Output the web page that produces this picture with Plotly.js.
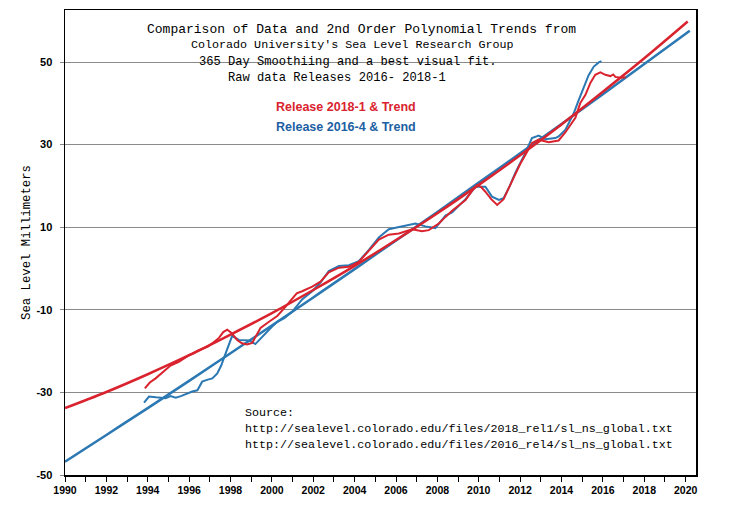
<!DOCTYPE html>
<html>
<head>
<meta charset="utf-8">
<script src="https://cdn.plot.ly/plotly-3.0.1.min.js"></script>
<style>html,body{margin:0;padding:0;background:#fff;}#chart{width:738px;height:527px;}</style>
</head>
<body>
<div id="chart"></div>
<script>
// Release 2018-1 data (365 day smoothing)
const red_years = [1993.86,1994.10,1994.38,1994.86,1995.10,1995.50,1996.00,1996.47,1996.90,1997.20,1997.44,1997.65,1997.84,1998.05,1998.32,1998.55,1998.80,1999.05,1999.25,1999.45,1999.86,2000.26,2000.60,2000.98,2001.20,2001.46,2001.95,2002.35,2002.75,2003.24,2003.72,2004.20,2004.69,2005.17,2005.65,2006.14,2006.78,2007.26,2007.58,2008.07,2008.39,2008.71,2009.36,2009.70,2009.92,2010.10,2010.32,2010.60,2010.89,2011.20,2011.50,2011.77,2012.00,2012.25,2012.57,2012.90,2013.38,2013.86,2014.19,2014.67,2014.90,2015.15,2015.40,2015.63,2015.88,2016.12,2016.36,2016.50,2016.60,2016.84,2017.10];
const red_values = [-29.0,-27.6,-26.6,-24.6,-23.5,-22.6,-21.0,-19.8,-18.9,-17.8,-16.8,-15.4,-14.8,-15.6,-17.3,-18.1,-18.4,-18.0,-16.0,-14.4,-12.9,-11.5,-9.6,-7.2,-6.0,-5.5,-4.4,-3.2,-0.9,0.2,0.4,1.6,4.3,7.0,8.2,8.5,9.5,9.0,9.3,10.9,12.5,14.0,16.6,19.0,20.2,19.8,18.6,16.8,15.4,16.8,20.0,23.0,25.3,27.5,30.4,31.2,30.6,31.0,33.0,36.5,40.0,42.0,45.0,46.9,47.5,46.9,46.6,47.0,46.4,46.2,46.3];

// Release 2016-4 data
const blue_years = [1993.82,1994.06,1994.40,1994.86,1995.10,1995.35,1995.60,1995.83,1996.15,1996.40,1996.63,1996.90,1997.12,1997.36,1997.55,1997.68,1997.92,1998.08,1998.40,1998.90,1999.20,1999.53,2000.00,2000.26,2000.60,2000.98,2001.46,2001.95,2002.35,2002.75,2003.24,2003.72,2004.20,2004.69,2005.17,2005.65,2006.14,2006.46,2006.94,2007.42,2007.90,2008.39,2008.71,2009.36,2009.84,2010.32,2010.64,2010.97,2011.20,2011.50,2011.77,2012.25,2012.57,2012.90,2013.22,2013.70,2013.86,2014.19,2014.59,2014.83,2015.07,2015.31,2015.56,2015.80,2015.93];
const blue_values = [-32.5,-31.0,-31.2,-31.4,-30.9,-31.3,-30.9,-30.4,-29.8,-29.5,-27.4,-26.9,-26.6,-25.4,-23.5,-21.7,-18.5,-16.3,-17.3,-17.4,-18.3,-16.5,-14.1,-12.9,-12.0,-10.5,-7.5,-5.5,-3.4,-0.6,0.6,0.8,1.8,4.5,7.5,9.5,10.0,10.5,10.9,10.2,9.8,12.8,13.6,16.8,19.8,19.8,17.4,16.6,17.0,20.0,23.2,28.0,31.6,32.2,31.3,31.6,32.0,33.6,37.6,40.8,43.8,46.8,48.9,49.9,50.2];

// 2nd order trend lines
const red_trend_years = [1990,1992,1994,1996,1998,2000,2002,2004,2006,2008,2010,2012,2014,2016,2018,2020.1];
const red_trend_values = [-33.8,-29.9,-25.6,-21.0,-16.0,-10.8,-5.2,0.65,6.9,13.4,20.25,27.4,34.9,42.8,50.9,59.8];
const blue_trend_years = [1990,1992,1994,1996,1998,2000,2002,2004,2006,2008,2010,2012,2014,2016,2018,2020.2];
const blue_trend_values = [-46.8,-40.3,-33.8,-27.2,-20.5,-13.8,-7.0,-0.15,6.8,13.7,20.8,27.9,35.0,42.2,49.5,57.6];

const y_ticks = [-50,-30,-10,10,30,50];
const y_tick_labels = ["-50","-30","-10","10","30","50"];

const title_lines = [
  "Comparison of Data and 2nd Order Polynomial Trends from",
  "Colorado University's Sea Level Research Group",
  "365 Day Smoothiing and a best visual fit.",
  "Raw data Releases 2016- 2018-1"
];
const legend_labels = ["Release 2018-1 & Trend", "Release 2016-4 & Trend"];
const source_lines = [
  "Source:",
  "http://sealevel.colorado.edu/files/2018_rel1/sl_ns_global.txt",
  "http://sealevel.colorado.edu/files/2016_rel4/sl_ns_global.txt"
];

const RED = '#d9232e', BLUE = '#2b78b2';
const L = 65, R = 696, T = 10, B = 475;
const px = x => (x - L) / (R - L);
const py = y => (B - y) / (B - T);
const MONO = '"Courier New", "Liberation Mono", monospace';
const SANS = 'Arial, "Liberation Sans", sans-serif';

const traces = [
  {x: blue_years, y: blue_values, mode: 'lines', line: {color: BLUE, width: 2}, hoverinfo: 'skip'},
  {x: blue_trend_years, y: blue_trend_values, mode: 'lines', line: {color: BLUE, width: 2.5, shape: 'spline'}, hoverinfo: 'skip'},
  {x: red_years, y: red_values, mode: 'lines', line: {color: RED, width: 2}, hoverinfo: 'skip'},
  {x: red_trend_years, y: red_trend_values, mode: 'lines', line: {color: RED, width: 2.5, shape: 'spline'}, hoverinfo: 'skip'}
];

function ann(text, x, y, size, color, family, weight) {
  return {text: text, xref: 'paper', yref: 'paper', x: px(x), y: py(y), xanchor: 'left', yanchor: 'middle',
    showarrow: false, borderpad: 0, font: {family: family, size: size, color: color, weight: weight || 'normal'}};
}
const title_y = [29.3, 45, 61.7, 77.7];
const title_x = [147, 190.6, 198.6, 227.6];
const title_sz = [13, 11.7, 12.1, 12.1];
const annotations = [];
title_lines.forEach((t, i) => annotations.push(ann(t, title_x[i] - 1, title_y[i], title_sz[i], '#000', MONO)));
annotations.push(ann('<b>' + legend_labels[0] + '</b>', 275, 107.3, 12.5, RED, SANS));
annotations.push(ann('<b>' + legend_labels[1] + '</b>', 275, 126.7, 12.5, '#1d5fa3', SANS));
const src_y = [413, 429.3, 445];
source_lines.forEach((t, i) => annotations.push(ann(t, 243.5, src_y[i], 11.7, '#000', MONO)));

const layout = {
  width: 738, height: 527,
  margin: {l: L, r: 738 - R, t: T, b: 527 - B, pad: 0},
  paper_bgcolor: '#fff', plot_bgcolor: '#fff',
  showlegend: false,
  xaxis: {
    range: [1990, 2020.5], tick0: 1990, dtick: 2, tickformat: 'd',
    ticks: 'outside', ticklen: 5, tickcolor: '#000', tickwidth: 1,
    minor: {dtick: 1, ticks: 'outside', ticklen: 5, tickcolor: '#000', showgrid: false},
    showgrid: false, zeroline: false,
    showline: true, linecolor: '#000', linewidth: 1.5, mirror: true,
    tickfont: {family: SANS, size: 10.5, color: '#000', weight: 'bold'}
  },
  yaxis: {
    range: [-50, 62.6], tickvals: y_ticks, ticktext: y_tick_labels,
    ticks: 'outside', ticklen: 4, tickcolor: '#888', ticklabelstandoff: 5,
    showgrid: true, gridcolor: '#8a8a8a', gridwidth: 1, zeroline: false,
    showline: true, linecolor: '#000', linewidth: 1.5, mirror: true,
    tickfont: {family: SANS, size: 11, color: '#000', weight: 'bold'},
    title: {text: 'Sea Level Millimeters', font: {family: MONO, size: 12.3, color: '#000'}, standoff: 3}
  },
  shapes: [
    {type: 'rect', xref: 'paper', yref: 'paper', x0: px(187), x1: px(518), y0: py(70), y1: py(54), fillcolor: '#fff', line: {width: 0}, layer: 'between'}
  ],
  annotations: annotations
};

Plotly.newPlot('chart', traces, layout, {displayModeBar: false, staticPlot: true});
</script>
</body>
</html>
